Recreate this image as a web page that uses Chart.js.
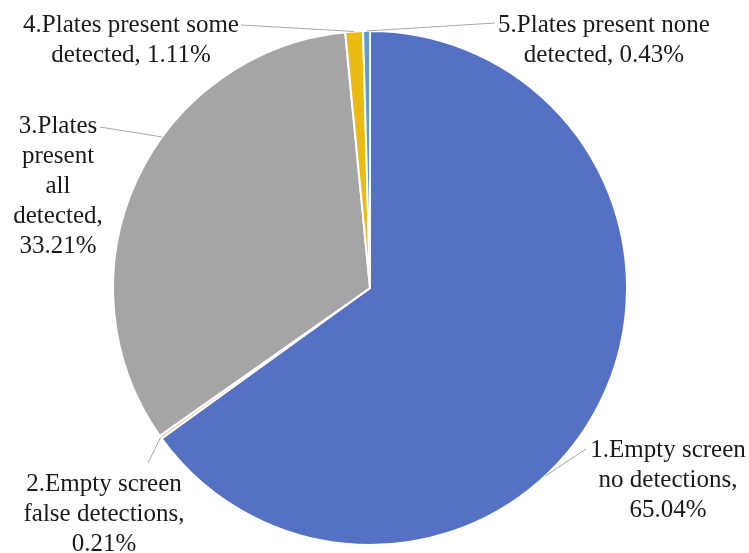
<!DOCTYPE html>
<html>
<head>
<meta charset="utf-8">
<script src="https://cdn.jsdelivr.net/npm/chart.js@4/dist/chart.umd.min.js"></script>
<style>
  html, body { margin: 0; padding: 0; background: #fff; }
  #wrap { width: 749px; height: 553px; position: relative; }
  #fontProbe { position: absolute; left: -1000px; top: 0; font: 25px "Liberation Serif"; }
</style>
</head>
<body>
<div id="wrap"><canvas id="pieChart"></canvas></div>
<span id="fontProbe">Plates 0.21%</span>
<script>
// data
var categories = [
  "1.Empty screen no detections",
  "2.Empty screen false detections",
  "3.Plates present all detected",
  "4.Plates present some detected",
  "5.Plates present none detected"
];
var shares = [65.04, 0.21, 33.21, 1.11, 0.43];
var sliceColors = ["#5571C4", "#F1C9A8", "#A5A5A5", "#EABB12", "#5B9BD5"];

// label layout: words per line, centre x, first baseline, leader start, leader angle on pie (deg from top, null = slice middle)
var wordsPerLine = [[2, 2, 1], [2, 2, 1], [1, 1, 1, 1, 1], [3, 2], [3, 2]];
var labelX = [668, 104, 58, 131, 604];
var labelY = [457, 491, 133, 32, 32];
var lineStep = 30;
var leaderFrom = [[586, 449], [148, 463], [100, 127], [241, 25], [495, 23]];
var leaderAngle = [137, null, 306, null, null];
var labelFont = '25px "Liberation Serif", "Times New Roman", serif';

function labelLines(i) {
  var words = (categories[i] + ", " + shares[i].toFixed(2) + "%").split(" ");
  var out = [], k = 0;
  wordsPerLine[i].forEach(function (n) {
    out.push(words.slice(k, k + n).join(" "));
    k += n;
  });
  return out;
}

var pieLabels = {
  id: "pieLabels",
  afterDatasetsDraw: function (chart) {
    var ctx = chart.ctx;
    var arcs = chart.getDatasetMeta(0).data;
    ctx.save();
    arcs.forEach(function (arc, i) {
      var a;
      if (leaderAngle[i] === null) a = (arc.startAngle + arc.endAngle) / 2;
      else a = leaderAngle[i] * Math.PI / 180 - Math.PI / 2;
      var ex = arc.x + arc.outerRadius * Math.cos(a);
      var ey = arc.y + arc.outerRadius * Math.sin(a);
      ctx.strokeStyle = "#A6A6A6";
      ctx.lineWidth = 1;
      ctx.beginPath();
      ctx.moveTo(leaderFrom[i][0], leaderFrom[i][1]);
      ctx.lineTo(ex, ey);
      ctx.stroke();

      ctx.fillStyle = "#1a1a1a";
      ctx.font = labelFont;
      ctx.textAlign = "center";
      ctx.textBaseline = "alphabetic";
      labelLines(i).forEach(function (t, j) {
        ctx.fillText(t, labelX[i], labelY[i] + j * lineStep);
      });
    });
    ctx.restore();
  }
};

function drawChart() {
  var pieCanvas = document.getElementById("pieChart").getContext("2d");
  new Chart(pieCanvas, {
    type: "pie",
    data: {
      labels: categories,
      datasets: [
        {
          data: shares,
          backgroundColor: sliceColors,
          borderColor: "#ffffff",
          borderWidth: 2,
          hoverOffset: 0
        }
      ]
    },
    options: {
      responsive: true,
      maintainAspectRatio: false,
      animation: false,
      layout: {
        padding: { left: 112, right: 121, top: 30, bottom: 7 }
      },
      plugins: {
        legend: { display: false },
        tooltip: { enabled: false }
      }
    },
    plugins: [pieLabels]
  });
}

document.fonts.load(labelFont).then(drawChart, drawChart);
</script>
</body>
</html>
